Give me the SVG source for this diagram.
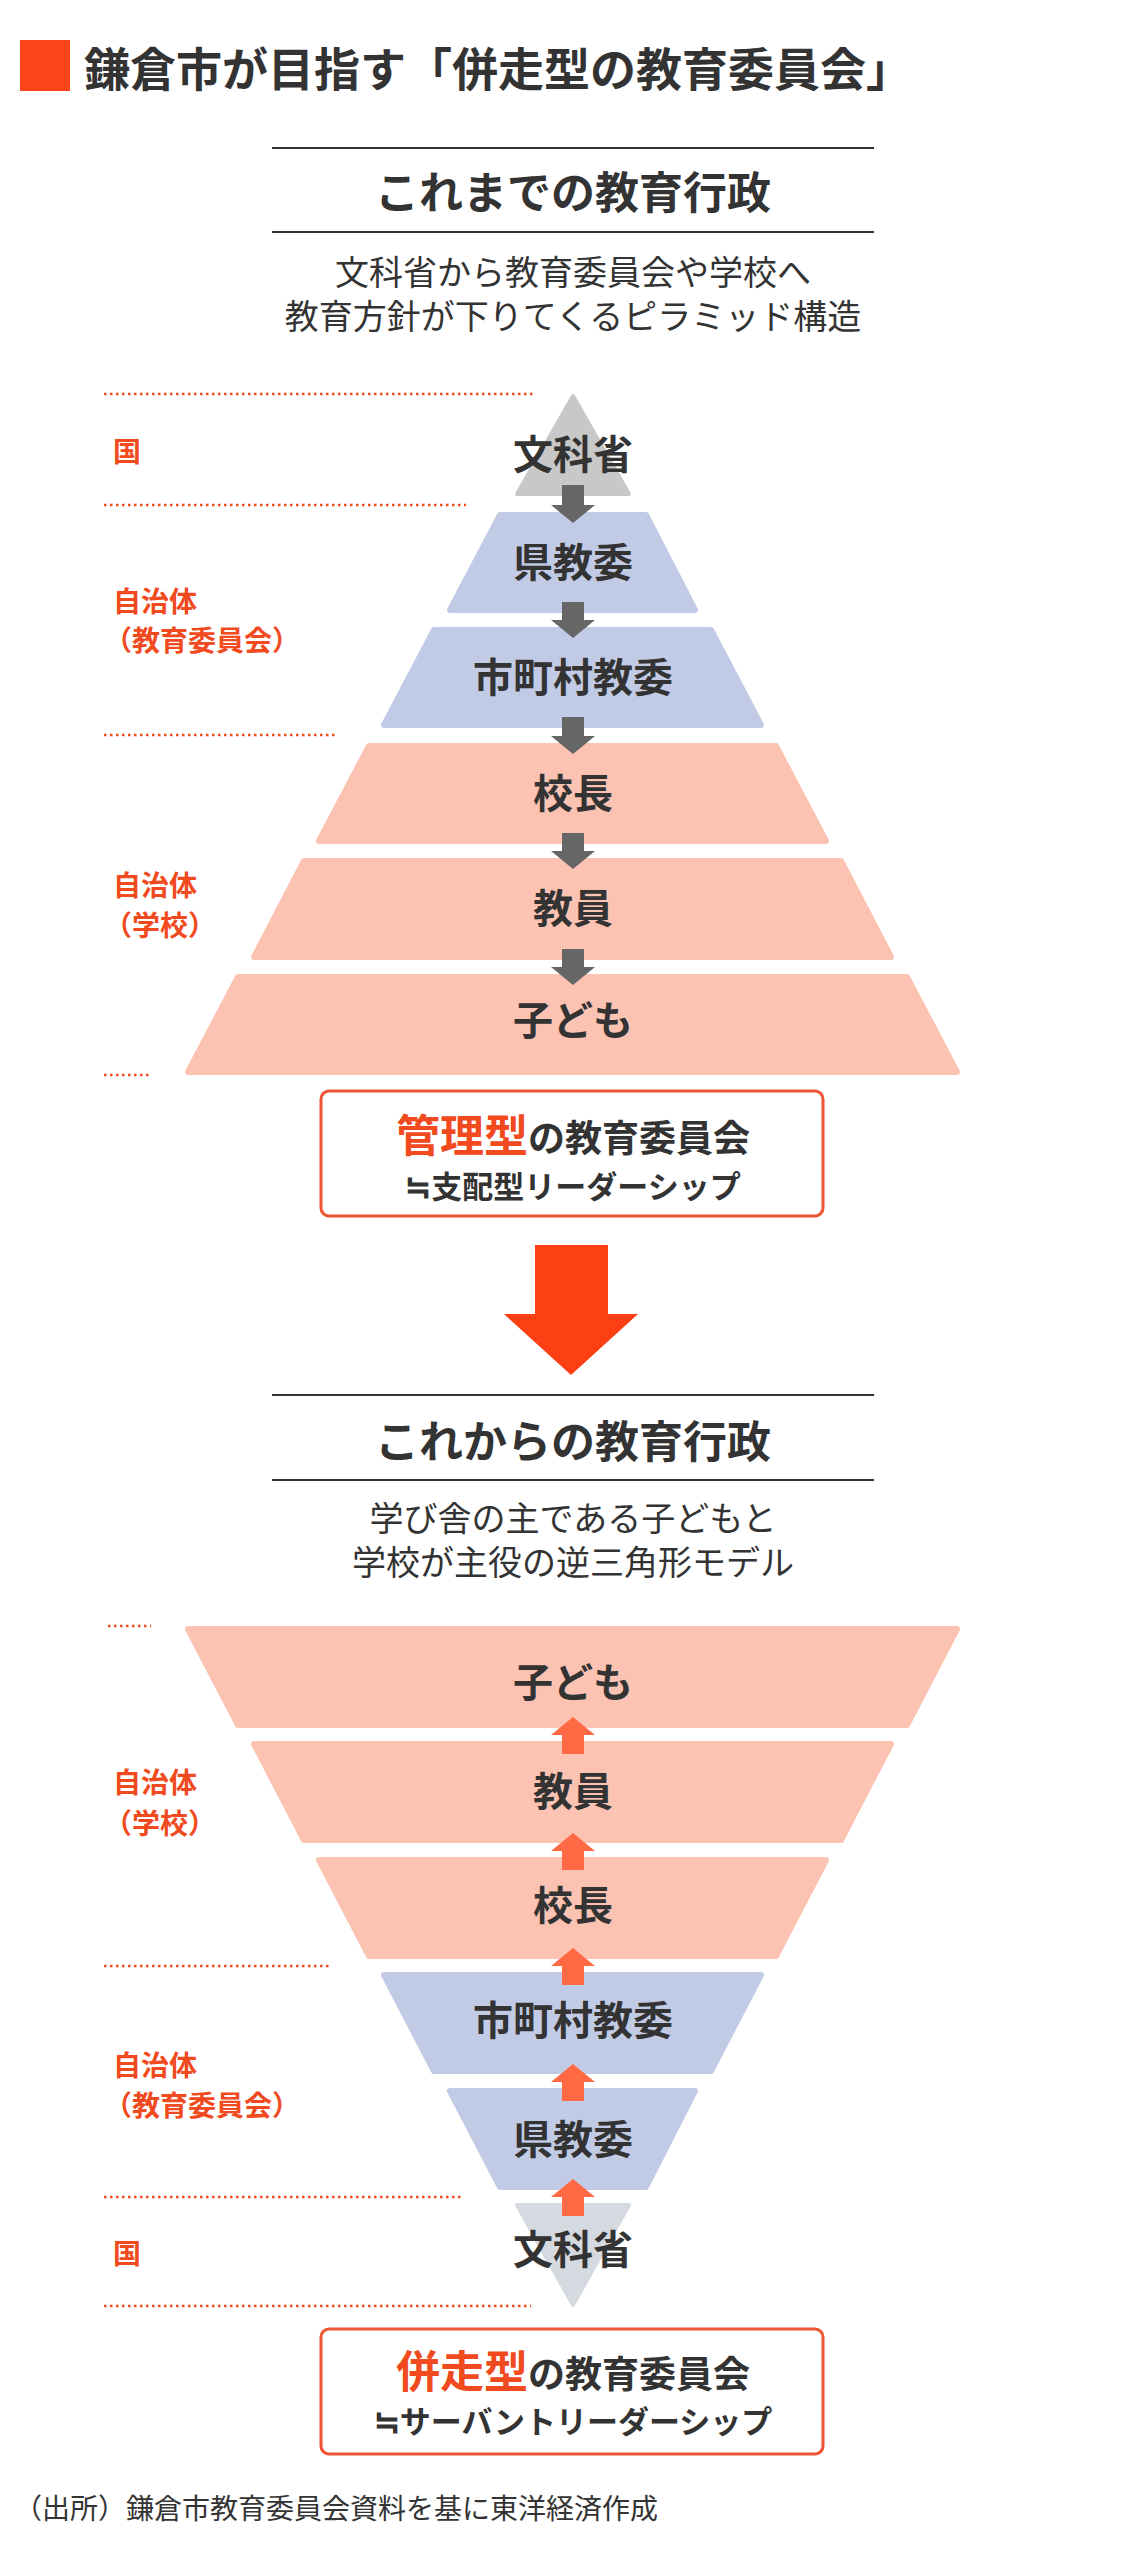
<svg xmlns="http://www.w3.org/2000/svg" width="1140" height="2550" viewBox="0 0 1140 2550">
<style>
.t{font-family:"Noto Sans CJK JP","Noto Sans",sans-serif;fill:#333}
.b{font-weight:700}
.c{text-anchor:middle}
.lbl{font-family:"Noto Sans CJK JP",sans-serif;font-weight:700;font-size:28px;fill:#f04a1e}
.dot{stroke:#f04a1e;stroke-width:2.5;stroke-dasharray:2.5 3.5;fill:none}
.hl{stroke:#333;stroke-width:2}
.pink{fill:#fcc3b3;stroke:#fcc3b3;stroke-width:6;stroke-linejoin:round}
.blue{fill:#c2cbe5;stroke:#c2cbe5;stroke-width:6;stroke-linejoin:round}
.lay{font-family:"Noto Sans CJK JP",sans-serif;font-weight:700;font-size:40px;fill:#333;text-anchor:middle}
.da{fill:#666}
.ua{fill:#ff6a45}
.box{fill:#fff;stroke:#ee5533;stroke-width:3}
</style>
<rect x="20" y="40" width="50" height="51" fill="#fc4419"/>
<text class="t b" x="84" y="86" font-size="46">鎌倉市が目指す「併走型の教育委員会」</text>

<g id="header1">
<line class="hl" x1="272" y1="148" x2="874" y2="148"/>
<text class="t b c" x="573" y="209" font-size="44">これまでの教育行政</text>
<line class="hl" x1="272" y1="232" x2="874" y2="232"/>
<text class="t c" x="573" y="285" font-size="34">文科省から教育委員会や学校へ</text>
<text class="t c" x="573" y="329" font-size="34">教育方針が下りてくるピラミッド構造</text>
</g>

<g id="levels1">
<line class="dot" x1="104" y1="394" x2="535" y2="394"/>
<line class="dot" x1="104" y1="505" x2="466" y2="505"/>
<line class="dot" x1="104" y1="735" x2="335" y2="735"/>
<line class="dot" x1="104" y1="1075" x2="151" y2="1075"/>
<text class="lbl" x="113" y="462">国</text>
<text class="lbl" x="113" y="612">自治体</text>
<text class="lbl" x="104" y="651">（教育委員会）</text>
<text class="lbl" x="113" y="896">自治体</text>
<text class="lbl" x="104" y="936">（学校）</text>
</g>

<g id="mext1"><polygon points="573,396 629,494 517,494" fill="#c8c8c8" stroke="#c8c8c8" stroke-width="4" stroke-linejoin="round"/><text class="lay" x="573" y="469">文科省</text></g>
<g id="pref1"><polygon class="blue" points="500,515 646,515 695,610 450,610"/><text class="lay" x="573" y="577">県教委</text></g>
<g id="city1"><polygon class="blue" points="434,630 711,630 761,725 384,725"/><text class="lay" x="573" y="692">市町村教委</text></g>
<g id="principal1"><polygon class="pink" points="369,746 776,746 826,841 319,841"/><text class="lay" x="573" y="808">校長</text></g>
<g id="teacher1"><polygon class="pink" points="304,861 841,861 891,957 254,957"/><text class="lay" x="573" y="923">教員</text></g>
<g id="child1"><polygon class="pink" points="238,977 907,977 957,1072 188,1072"/><text class="lay" x="573" y="1035">子ども</text></g>

<g id="connectors1">
<path class="da" d="M562,485H584V505H595L573,523L551,505H562Z"/>
<path class="da" d="M562,602H584V620H595L573,638L551,620H562Z"/>
<path class="da" d="M562,717H584V736H595L573,754L551,736H562Z"/>
<path class="da" d="M562,833H584V851H595L573,869L551,851H562Z"/>
<path class="da" d="M562,949H584V967H595L573,985L551,967H562Z"/>
</g>

<g id="box1">
<rect class="box" x="321" y="1091" width="502" height="125" rx="8"/>
<text class="t b c" x="573" y="1152"><tspan font-size="44" fill="#f04a1e">管理型</tspan><tspan font-size="37">の教育委員会</tspan></text>
<text class="t b c" x="573" y="1198" font-size="31">≒支配型リーダーシップ</text>
</g>

<g id="bigarrow"><path d="M535,1245H608V1314H638L571,1375L504,1314H535Z" fill="#fc4014"/></g>

<g id="header2">
<line class="hl" x1="272" y1="1395" x2="874" y2="1395"/>
<text class="t b c" x="573" y="1458" font-size="44">これからの教育行政</text>
<line class="hl" x1="272" y1="1480" x2="874" y2="1480"/>
<text class="t c" x="573" y="1531" font-size="34">学び舎の主である子どもと</text>
<text class="t c" x="573" y="1575" font-size="34">学校が主役の逆三角形モデル</text>
</g>

<g id="levels2">
<line class="dot" x1="108" y1="1626" x2="151" y2="1626"/>
<line class="dot" x1="104" y1="1966" x2="330" y2="1966"/>
<line class="dot" x1="104" y1="2197" x2="462" y2="2197"/>
<line class="dot" x1="104" y1="2306" x2="531" y2="2306"/>
<text class="lbl" x="113" y="1793">自治体</text>
<text class="lbl" x="104" y="1834">（学校）</text>
<text class="lbl" x="113" y="2076">自治体</text>
<text class="lbl" x="104" y="2116">（教育委員会）</text>
<text class="lbl" x="113" y="2264">国</text>
</g>

<g id="child2"><polygon class="pink" points="188,1629 957,1629 907,1725 238,1725"/><text class="lay" x="573" y="1697">子ども</text></g>
<g id="teacher2"><polygon class="pink" points="254,1744 891,1744 841,1840 304,1840"/><text class="lay" x="573" y="1806">教員</text></g>
<g id="principal2"><polygon class="pink" points="319,1860 826,1860 776,1956 369,1956"/><text class="lay" x="573" y="1920">校長</text></g>
<g id="city2"><polygon class="blue" points="384,1975 761,1975 711,2071 434,2071"/><text class="lay" x="573" y="2035">市町村教委</text></g>
<g id="pref2"><polygon class="blue" points="450,2091 695,2091 646,2187 500,2187"/><text class="lay" x="573" y="2154">県教委</text></g>
<g id="mext2"><polygon points="517,2205 629,2205 573,2305" fill="#d5dae0" stroke="#d5dae0" stroke-width="4" stroke-linejoin="round"/><text class="lay" x="573" y="2264">文科省</text></g>

<g id="connectors2">
<path class="ua" d="M562,1754H584V1735H595L573,1717L551,1735H562Z"/>
<path class="ua" d="M562,1870H584V1851H595L573,1833L551,1851H562Z"/>
<path class="ua" d="M562,1985H584V1966H595L573,1948L551,1966H562Z"/>
<path class="ua" d="M562,2101H584V2082H595L573,2064L551,2082H562Z"/>
<path class="ua" d="M562,2216H584V2197H595L573,2179L551,2197H562Z"/>
</g>

<g id="box2">
<rect class="box" x="321" y="2329" width="502" height="125" rx="8"/>
<text class="t b c" x="573" y="2388"><tspan font-size="44" fill="#f04a1e">併走型</tspan><tspan font-size="37">の教育委員会</tspan></text>
<text class="t b c" x="573" y="2433" font-size="31">≒サーバントリーダーシップ</text>
</g>

<text class="t" x="14" y="2519" font-size="28">（出所）鎌倉市教育委員会資料を基に東洋経済作成</text>
</svg>
